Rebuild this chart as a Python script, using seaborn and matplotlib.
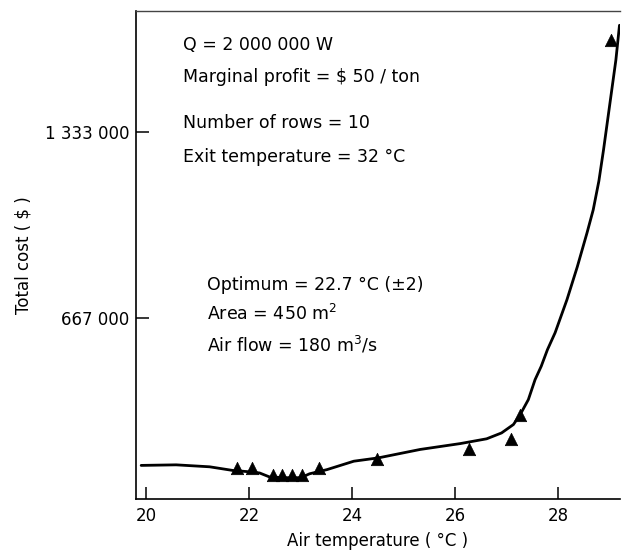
import matplotlib
matplotlib.use("Agg")
import matplotlib.pyplot as plt
import seaborn as sns
import pandas as pd
from matplotlib.ticker import FuncFormatter

# Data points (triangles)
point_temp = [21.76, 22.05, 22.46, 22.63, 22.83, 23.02, 23.35, 24.49, 26.26, 27.09, 27.25, 29.02]
point_cost = [131000, 132000, 108000, 108000, 108000, 108000, 131000, 166000, 199000, 238000, 321000, 1661000]

# Fitted curve
curve_temp = [19.90, 20.58, 21.23, 21.68, 21.95, 22.20, 22.39, 22.70, 23.00, 23.17, 23.51,
              24.03, 24.51, 25.32, 26.10, 26.61, 26.90, 27.13, 27.26, 27.42, 27.55, 27.67,
              27.79, 27.94, 28.17, 28.37, 28.56, 28.68, 28.79, 28.88, 28.96, 29.04, 29.12, 29.19]
curve_cost = [142000, 144000, 137000, 124000, 120000, 115000, 101000, 98000, 98000, 112000, 127000,
              157000, 169000, 199000, 220000, 237000, 258000, 288000, 323000, 377000, 448000, 496000,
              555000, 616000, 734000, 851000, 973000, 1055000, 1158000, 1269000, 1376000, 1483000,
              1590000, 1714000]

xticks = [20, 22, 24, 26, 28]
yticks = [667000, 1333000]

annot_top = ["Q = 2 000 000 W", "Marginal profit = $ 50 / ton",
             "Number of rows = 10", "Exit temperature = 32 °C"]
annot_mid = ["Optimum = 22.7 °C (±2)", "Area = 450 m$^2$", "Air flow = 180 m$^3$/s"]

sns.set_theme(style="ticks")
plt.rcParams['font.family'] = ['DejaVu Sans']
plt.rcParams['text.color'] = 'black'
plt.rcParams['axes.labelcolor'] = 'black'

fig = plt.figure(figsize=(6.23, 5.51), dpi=100)
ax = fig.add_axes([136/623, 1 - 499/551, (620 - 136)/623, (499 - 11)/551])

curve_df = pd.DataFrame({"temp": curve_temp, "cost": curve_cost})
pts_df = pd.DataFrame({"temp": point_temp, "cost": point_cost})

sns.lineplot(data=curve_df, x="temp", y="cost", ax=ax, color="black", lw=2.0,
             sort=False, estimator=None)
sns.scatterplot(data=pts_df, x="temp", y="cost", ax=ax, marker="^", color="black",
                s=80, edgecolor="black", linewidth=0.5, zorder=5)

ax.set_xlim(19.8, 29.2)
ax.set_ylim(22000, 1765000)
ax.set_xticks(xticks)
ax.set_yticks(yticks)
ax.yaxis.set_major_formatter(FuncFormatter(lambda v, p: f"{int(round(v)):,}".replace(",", " ")))
ax.tick_params(axis="both", direction="in", length=9, width=1.1, labelsize=12, colors="black")
ax.tick_params(axis="x", pad=6)
ax.tick_params(axis="y", pad=5)

for s in ["left", "bottom"]:
    ax.spines[s].set_linewidth(1.2)
    ax.spines[s].set_color("black")
ax.spines["top"].set_linewidth(1.0)
ax.spines["top"].set_color("#444444")
ax.spines["right"].set_visible(False)

ax.set_xlabel("Air temperature ( °C )", fontsize=12, labelpad=5)
ax.set_ylabel("Total cost ( $ )", fontsize=12, labelpad=9)

ys_top = [45, 77, 123, 157]
for t, yp in zip(annot_top, ys_top):
    fig.text(183/623, 1 - yp/551, t, fontsize=12.5, va="center", ha="left", color="black")
ys_mid = [285, 314, 345]
for t, yp in zip(annot_mid, ys_mid):
    fig.text(207/623, 1 - yp/551, t, fontsize=12.5, va="center", ha="left", color="black")

fig.savefig("out.png", dpi=100, facecolor="white")
